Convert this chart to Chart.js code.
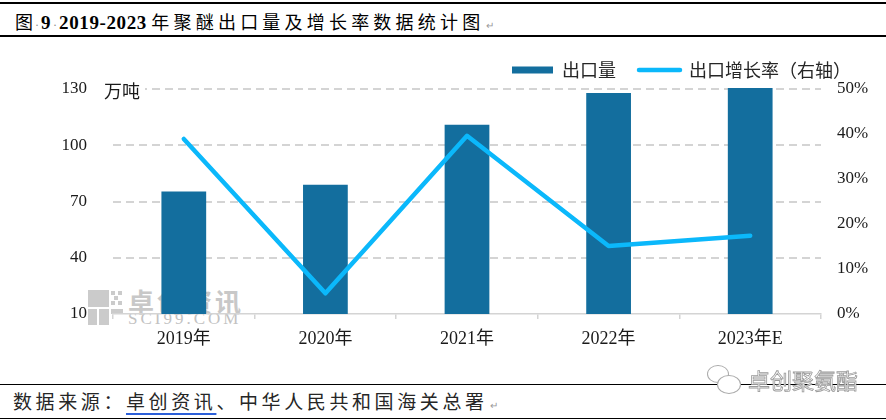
<!DOCTYPE html>
<html>
<head>
<meta charset="utf-8">
<script src="https://cdn.jsdelivr.net/npm/chart.js@4/dist/chart.umd.min.js"></script>
<style>
    body { margin: 0; background: #fff; }
    #wrap { position: relative; width: 886px; height: 420px; overflow: hidden; font-family: "Liberation Serif", "Noto Sans CJK SC", serif; }
    #chart { position: absolute; left: 0; top: 0; z-index: 2; }
    .rule { position: absolute; left: 0; width: 886px; height: 1.5px; background: #000; }
    #title { position: absolute; left: 15px; top: 9px; font-size: 18px; line-height: 24px; color: #000; white-space: nowrap; }
    #title b { font-family: "Liberation Serif", serif; font-weight: bold; font-size: 19px; letter-spacing: 0.6px; }
    #title .cjk { font-family: "Noto Sans CJK SC", sans-serif; letter-spacing: 4.2px; }
    #title .dot { color: #888; font-size: 12px; margin: 0 2px; }
    .ret { color: #999; font-size: 10px; margin-left: 2px; }
    #source { position: absolute; left: 13px; top: 389px; font-family: "Noto Sans CJK SC", sans-serif; font-size: 19px; line-height: 24px; letter-spacing: 3.6px; color: #262626; white-space: nowrap; }
    #source u { text-decoration-color: #2b5fd9; text-underline-offset: 4px; text-decoration-thickness: 1.5px; }
    #unit { position: absolute; left: 104px; top: 79px; padding-right: 5px; background: #fff; z-index: 3; font-family: "Noto Sans CJK SC", sans-serif; font-size: 18px; line-height: 22px; color: #1a1a1a; }
    /* watermark under the chart */
    .wm { position: absolute; z-index: 1; color: #c8c8c8; white-space: nowrap; }
    .blk { position: absolute; z-index: 1; background: #cbcbcb; }
    #wx { position: absolute; left: 748px; top: 366px; z-index: 3; font-family: "Noto Sans CJK SC", sans-serif; font-size: 22px; line-height: 26px; color: #fff; -webkit-text-stroke: 0.8px #9a9a9a; }
    .bub { position: absolute; z-index: 3; border: 1.2px solid #aaa; border-radius: 50%; background: #fff; }
</style>
</head>
<body>
<div id="wrap">
    <div class="rule" style="top:2px"></div>
    <div id="title">图<span class="dot">·</span><b>9</b><span class="dot">·</span><b>2019-2023</b> <span class="cjk">年聚醚出口量及增长率数据统计图</span><span class="ret">↵</span></div>
    <div class="rule" style="top:35px"></div>

    <div class="blk" style="left:88px;top:290px;width:21px;height:17px"></div>
    <div class="blk" style="left:88px;top:309px;width:9px;height:16px"></div>
    <div class="blk" style="left:99px;top:309px;width:10px;height:16px"></div>
    <div class="blk" style="left:111px;top:291px;width:4px;height:4px"></div>
    <div class="blk" style="left:118px;top:291px;width:4px;height:4px"></div>
    <div class="blk" style="left:114px;top:296px;width:4px;height:4px"></div>
    <div class="blk" style="left:111px;top:301px;width:4px;height:4px"></div>
    <div class="blk" style="left:118px;top:301px;width:4px;height:4px"></div>
    <div class="blk" style="left:111px;top:309px;width:12px;height:5px"></div>
    <div class="wm" style="left:128px;top:286px;font-family:'Noto Sans CJK SC',sans-serif;font-size:26px;line-height:30px;letter-spacing:3px;font-weight:bold">卓创资讯</div>
    <div class="wm" style="left:128px;top:310px;font-family:'Liberation Serif',serif;font-size:17px;line-height:18px;letter-spacing:3px;color:#c2c2c2">SCI99.COM</div>

    <div id="unit">万吨</div>
    <canvas id="chart" width="886" height="420"></canvas>

    <div class="rule" style="top:383.5px"></div>
    <div class="bub" style="left:707px;top:365px;width:20px;height:16px"></div>
    <div class="bub" style="left:717px;top:375px;width:22px;height:17px"></div>
    <div id="wx">卓创聚氨酯</div>
    <div id="source">数据来源：<u>卓创资讯</u>、中华人民共和国海关总署<span class="ret">↵</span></div>
    <div class="rule" style="top:417.5px"></div>
</div>

<script>
// Chart data
const years = ['2019年', '2020年', '2021年', '2022年', '2023年E'];
const exportVolume = [75.3, 78.9, 110.9, 127.9, 130.6];   // 万吨
const growthRate = [0.389, 0.046, 0.396, 0.151, 0.174];    // right axis
const leftTicks = [10, 40, 70, 100, 130];
const rightTicks = [0, 0.1, 0.2, 0.3, 0.4, 0.5];

const barColor = '#136e9e';
const lineColor = '#0bb8fb';
const gridColor = '#d4d4d4';
const numFont = { family: '"Liberation Serif", "Noto Sans CJK SC", serif', size: 17 };

// dashed horizontal grid lines at the left axis ticks (dash 8, gap 5)
const dashedGrid = {
    id: 'dashedGrid',
    beforeDatasetsDraw(chart) {
        const { ctx, chartArea, scales } = chart;
        const y = scales.y;
        ctx.save();
        ctx.fillStyle = gridColor;
        y.ticks.forEach(t => {
            if (t.value === y.min) return; // x axis line sits there
            const py = Math.round(y.getPixelForValue(t.value)) - 1;
            for (let x = chartArea.left; x < chartArea.right; x += 13) {
                ctx.fillRect(x, py, Math.min(8, chartArea.right - x), 2);
            }
        });
        ctx.restore();
    }
};

const ctx = document.getElementById('chart').getContext('2d');
const chart = new Chart(ctx, {
    data: {
        labels: years,
        datasets: [
            {
                type: 'bar',
                label: '出口量',
                data: exportVolume,
                backgroundColor: barColor,
                borderWidth: 0,
                base: 10,
                barPercentage: 0.316,
                categoryPercentage: 1,
                yAxisID: 'y',
                order: 1,
                clip: false
            },
            {
                type: 'line',
                label: '出口增长率（右轴）',
                data: growthRate,
                borderColor: lineColor,
                backgroundColor: lineColor,
                borderWidth: 4.5,
                borderCapStyle: 'round',
                borderJoinStyle: 'round',
                pointRadius: 0,
                tension: 0,
                yAxisID: 'y1',
                order: 0
            }
        ]
    },
    plugins: [dashedGrid],
    options: {
        responsive: false,
        animation: false,
        devicePixelRatio: 1,
        layout: {
            padding: { top: 38, right: 12, left: 0, bottom: 0 }
        },
        plugins: {
            tooltip: { enabled: false },
            legend: {
                position: 'top',
                align: 'end',
                labels: {
                    usePointStyle: true,
                    pointStyleWidth: 41,
                    boxHeight: 7,
                    padding: 23,
                    color: '#262626',
                    font: { family: '"Noto Sans CJK SC", sans-serif', size: 18 },
                    sort: (a, b) => a.datasetIndex - b.datasetIndex,
                    generateLabels: (c) => {
                        const items = Chart.defaults.plugins.legend.labels.generateLabels(c);
                        items.forEach(item => {
                            if (item.datasetIndex === 0) {
                                item.pointStyle = 'rect';
                                item.lineWidth = 0;
                            } else {
                                item.pointStyle = 'line';
                                item.lineWidth = 4.5;
                                item.lineCap = 'round';
                            }
                        });
                        return items;
                    }
                }
            }
        },
        scales: {
            x: {
                offset: true,
                grid: {
                    offset: true,
                    drawOnChartArea: false,
                    drawTicks: true,
                    tickLength: 5,
                    color: gridColor,
                    lineWidth: 1.5
                },
                border: { color: gridColor, width: 1.5 },
                ticks: {
                    color: '#1a1a1a',
                    padding: 9,
                    font: { family: '"Liberation Serif", "Noto Sans CJK SC", serif', size: 18 }
                },
                afterFit: (scale) => { scale.height = 106; }
            },
            y: {
                position: 'left',
                min: 10,
                max: 130,
                afterBuildTicks: (scale) => { scale.ticks = leftTicks.map(v => ({ value: v })); },
                grid: { display: false, drawTicks: false },
                border: { display: false },
                ticks: { color: '#1a1a1a', padding: 26, font: numFont },
                afterFit: (scale) => { scale.width = 113; }
            },
            y1: {
                position: 'right',
                min: 0,
                max: 0.5,
                afterBuildTicks: (scale) => { scale.ticks = rightTicks.map(v => ({ value: v })); },
                grid: { display: false, drawOnChartArea: false, drawTicks: false },
                border: { display: false },
                ticks: {
                    color: '#1a1a1a',
                    padding: 16,
                    font: numFont,
                    callback: (v) => Math.round(v * 100) + '%'
                },
                afterFit: (scale) => { scale.width = 53; }
            }
        }
    }
});
</script>
</body>
</html>
